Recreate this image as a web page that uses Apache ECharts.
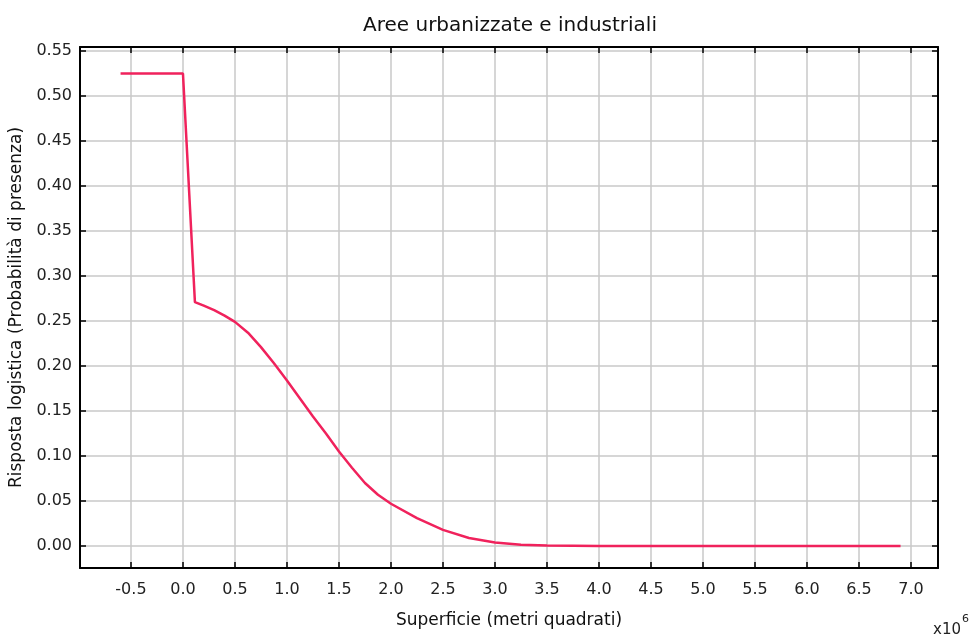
<!DOCTYPE html>
<html>
<head>
<meta charset="utf-8">
<title>Aree urbanizzate e industriali</title>
<script src="https://cdn.jsdelivr.net/npm/echarts@6/dist/echarts.min.js"></script>
<style>
  html, body { margin: 0; padding: 0; background: #ffffff; }
  #chart { width: 974px; height: 640px; }
</style>
</head>
<body>
<div id="chart"></div>
<script>
// Superficie in metri quadrati, risposta logistica (probabilità di presenza)
const superficie = [-600000, 0, 115000, 200000, 300000, 400000, 500000, 625000, 750000,
  875000, 1000000, 1125000, 1250000, 1375000, 1500000, 1625000, 1750000, 1875000,
  2000000, 2250000, 2500000, 2750000, 3000000, 3250000, 3500000, 4000000,
  5000000, 6000000, 6900000];
const risposta = [0.525, 0.525, 0.271, 0.267, 0.262, 0.256, 0.249, 0.237, 0.221,
  0.203, 0.184, 0.164, 0.144, 0.125, 0.105, 0.087, 0.070, 0.057,
  0.047, 0.031, 0.018, 0.009, 0.004, 0.0015, 0.0005, 0.0001,
  0, 0, 0];

// Valori delle tacche sugli assi
const taccheX = [-500000, 0, 500000, 1000000, 1500000, 2000000, 2500000, 3000000, 3500000,
  4000000, 4500000, 5000000, 5500000, 6000000, 6500000, 7000000];
const taccheY = [0, 0.05, 0.10, 0.15, 0.20, 0.25, 0.30, 0.35, 0.40, 0.45, 0.50, 0.55];

const titolo = 'Aree urbanizzate e industriali';
const nomeAsseX = 'Superficie (metri quadrati)';
const nomeAsseY = 'Risposta logistica (Probabilità di presenza)';

const FONT = 'DejaVu Sans';
const X_MIN = -990000, X_MAX = 7260000;
const Y_MIN = -0.0244, Y_MAX = 0.5544;

const linea = { show: true, onZero: false, lineStyle: { color: '#000', width: 2 } };
const tacche = (valori) => ({
  show: true, inside: true, length: 6, customValues: valori,
  lineStyle: { color: '#000', width: 1.5 }
});
const griglia = { show: true, lineStyle: { color: '#c9c9c9', width: 1.5 } };

const chart = echarts.init(document.getElementById('chart'));
chart.setOption({
  animation: false,
  backgroundColor: '#ffffff',
  title: {
    text: titolo,
    left: 505,
    top: 11,
    textAlign: 'center',
    textStyle: { fontFamily: FONT, fontSize: 20, fontWeight: 'normal', color: '#111' }
  },
  grid: { left: 80, top: 47, right: 36, bottom: 72, containLabel: false },
  xAxis: [{
    type: 'value',
    position: 'bottom',
    min: X_MIN, max: X_MAX,
    axisLine: linea, axisTick: tacche(taccheX), splitLine: griglia,
    axisLabel: {
      margin: 14, fontFamily: FONT, fontSize: 16, color: '#222',
      customValues: taccheX,
      formatter: v => (v / 1e6).toFixed(1)
    },
    name: nomeAsseX, nameLocation: 'middle', nameGap: 44,
    nameTextStyle: { fontFamily: FONT, fontSize: 17, color: '#111' }
  }, {
    type: 'value',
    position: 'top',
    min: X_MIN, max: X_MAX,
    axisLine: linea, axisTick: tacche(taccheX), splitLine: { show: false },
    axisLabel: { show: false }
  }],
  yAxis: [{
    type: 'value',
    position: 'left',
    min: Y_MIN, max: Y_MAX,
    axisLine: linea, axisTick: tacche(taccheY), splitLine: griglia,
    axisLabel: {
      margin: 8, fontFamily: FONT, fontSize: 16, color: '#222',
      customValues: taccheY,
      formatter: v => v.toFixed(2)
    },
    name: nomeAsseY, nameLocation: 'middle', nameRotate: 90, nameGap: 53,
    nameTextStyle: { fontFamily: FONT, fontSize: 17, color: '#111' }
  }, {
    type: 'value',
    position: 'right',
    min: Y_MIN, max: Y_MAX,
    axisLine: linea, axisTick: tacche(taccheY), splitLine: { show: false },
    axisLabel: { show: false }
  }],
  graphic: [{
    type: 'text', left: 933, top: 623,
    style: { text: 'x10', fontFamily: FONT, fontSize: 15, fill: '#222' }
  }, {
    type: 'text', left: 962, top: 614,
    style: { text: '6', fontFamily: FONT, fontSize: 11, fill: '#222' }
  }],
  series: [{
    type: 'line',
    xAxisIndex: 0, yAxisIndex: 0,
    data: superficie.map((s, i) => [s, risposta[i]]),
    showSymbol: false,
    smooth: false,
    lineStyle: { color: '#f0225c', width: 2.5 },
    z: 5
  }]
});
</script>
</body>
</html>
